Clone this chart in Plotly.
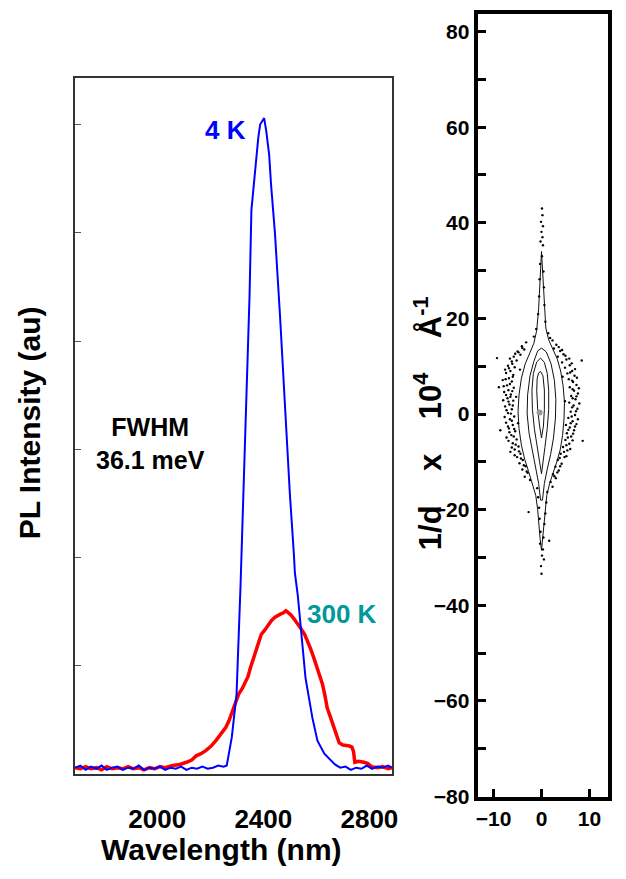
import plotly.graph_objects as go

# ---------------- Left panel: PL spectra ----------------
wl_300K = [1690, 1710, 1730, 1750, 1770, 1790, 1810, 1830, 1850, 1870,
           1890, 1910, 1930, 1950, 1970, 1990, 2010, 2030, 2058, 2085,
           2110, 2130, 2147, 2165, 2184, 2203, 2221, 2240, 2258, 2270,
           2281, 2294, 2307, 2320, 2333, 2342, 2351, 2360, 2370, 2381,
           2392, 2405, 2418, 2431, 2444, 2455, 2466, 2476, 2485, 2495,
           2504, 2517, 2530, 2543, 2556, 2567, 2578, 2591, 2604, 2613,
           2623, 2632, 2641, 2654, 2667, 2677, 2686, 2700, 2716, 2725,
           2734, 2740, 2745, 2760, 2779, 2793, 2808, 2830, 2850, 2870,
           2885]
pl_300K = [0.06, 0.05, 0.07, 0.05, 0.06, 0.04, 0.07, 0.05, 0.06, 0.05,
           0.07, 0.05, 0.06, 0.04, 0.06, 0.05, 0.07, 0.06, 0.08, 0.09,
           0.11, 0.13, 0.17, 0.19, 0.22, 0.26, 0.31, 0.37, 0.43, 0.49,
           0.56, 0.64, 0.74, 0.79, 0.86, 0.90, 0.98, 1.05, 1.13, 1.22,
           1.29, 1.33, 1.38, 1.42, 1.45, 1.47, 1.48, 1.49, 1.51, 1.49,
           1.47, 1.43, 1.39, 1.34, 1.29, 1.23, 1.16, 1.07, 0.98, 0.91,
           0.83, 0.73, 0.61, 0.52, 0.43, 0.36, 0.29, 0.27, 0.265, 0.26,
           0.25, 0.21, 0.11, 0.12, 0.11, 0.10, 0.07, 0.06, 0.07, 0.05,
           0.06]

wl_4K = [1690, 1710, 1730, 1750, 1770, 1790, 1810, 1830, 1850, 1870,
         1890, 1910, 1930, 1950, 1970, 1990, 2010, 2030, 2050, 2070,
         2090, 2110, 2130, 2150, 2170, 2190, 2210, 2230, 2250, 2262,
         2281, 2299, 2314, 2318, 2329, 2336, 2348, 2355, 2370, 2381,
         2388, 2396, 2403, 2411, 2422, 2429, 2444, 2463, 2481, 2500,
         2515, 2519, 2530, 2548, 2559, 2585, 2604, 2630, 2652, 2670,
         2690, 2710, 2730, 2750, 2770, 2790, 2810, 2830, 2850, 2870,
         2885]
pl_4K = [0.06, 0.08, 0.04, 0.07, 0.05, 0.08, 0.04, 0.06, 0.07, 0.04,
         0.06, 0.05, 0.08, 0.04, 0.06, 0.05, 0.07, 0.04, 0.06, 0.05,
         0.07, 0.04, 0.06, 0.05, 0.07, 0.05, 0.06, 0.08, 0.07, 0.08,
         0.34, 0.74, 1.74, 2.04, 2.96, 3.50, 4.42, 5.21, 5.63, 5.88,
         6.00, 6.04, 6.06, 5.94, 5.72, 5.45, 4.99, 4.23, 3.41, 2.59,
         2.04, 1.86, 1.65, 1.20, 0.89, 0.52, 0.31, 0.19, 0.13, 0.09,
         0.06, 0.07, 0.04, 0.06, 0.05, 0.08, 0.05, 0.07, 0.06, 0.08,
         0.06]

wl_tick_labels = [2000, 2400, 2800]
wl_tick_marks = [2091, 2485]
pl_tick_marks = [1, 2, 3, 4, 5, 6]

# ---------------- Right panel: reciprocal-space map ----------------
c1_x = [0.0, 0.3, 0.6, 0.9, 1.5, 2.4, 3.3, 4.0, 4.5, 4.8, 4.7, 4.4, 3.9, 3.2, 2.4,
        1.7, 1.1, 0.8, 0.5, 0.3, 0.0, -0.3, -0.5, -0.8, -1.2, -1.9, -2.7, -3.5,
        -4.2, -4.7, -4.9, -4.7, -4.2, -3.4, -2.5, -1.6, -1.0, -0.6, -0.3, 0.0]
c1_y = [34, 28, 22, 18, 15.5, 13.5, 11.5, 9, 6, 2.5, -1, -4.5, -7.5, -10, -12.2,
        -14.5, -17, -20, -23, -26, -28.5, -26, -23, -20, -17, -14.5, -12, -9.5,
        -6.5, -3, 0.5, 4, 7.5, 10.5, 12.8, 14.8, 17.5, 22, 28, 34]
c2_x = [0.0, 1.0, 2.0, 2.7, 3.0, 2.9, 2.5, 1.9, 1.2, 0.6, 0.2, -0.2, -0.6, -1.2,
        -1.9, -2.6, -3.0, -2.9, -2.4, -1.6, -0.8, 0.0]
c2_y = [13.8, 13.0, 10.5, 7.0, 3.0, -1.0, -5.0, -8.5, -11.5, -14.5, -18.0, -18.0,
        -14.5, -11.5, -8.0, -4.0, 0.0, 4.0, 8.0, 11.0, 13.2, 13.8]
c3_x = [-0.2, 0.6, 1.2, 1.5, 1.5, 1.2, 0.7, 0.3, 0.0, -0.4, -0.9, -1.5, -1.9,
        -2.0, -1.7, -1.0, -0.2]
c3_y = [11.7, 10.8, 8.5, 5.0, 1.0, -3.0, -7.0, -10.0, -12.5, -10.0, -7.0, -3.0,
        1.0, 5.0, 8.5, 10.9, 11.7]
c4_x = [-0.2, 0.3, 0.6, 0.6, 0.4, 0.0, -0.4, -0.8, -1.0, -0.9, -0.6, -0.2]
c4_y = [8.9, 8.0, 5.0, 1.0, -2.5, -5.0, -2.5, 1.0, 5.0, 7.5, 8.6, 8.9]
peak_x = [-0.4]
peak_y = [0.3]

dots_x = [-3.2, -4.1, -3.6, -5.0, -4.4, -5.8, -6.6, -5.2, -9.3, -6.1, -7.0, -5.6,
          -6.5, -7.4, -5.9, -6.8, -8.1, -6.2, -7.2, -5.8, -6.9, -7.8, -6.4, -7.1,
          -5.9, -6.7, -7.6, -6.2, -7.0, -5.7, -6.6, -7.4, -6.0, -6.8, -5.5, -6.3,
          -7.3, -5.2, -6.0, -4.8, -5.6, -6.5, -4.4, -5.1, -3.9, -4.6, -3.3, -4.0,
          -2.9, -3.5, -2.4, -8.6, -8.9, -4.5, -5.3, -4.9,
          2.3, 3.1, 2.6, 3.9, 4.6, 3.4, 5.2, 4.3, 5.9, 4.9, 6.4, 5.4, 8.4, 6.9,
          5.7, 6.6, 7.3, 5.9, 6.8, 7.6, 6.2, 7.1, 5.8, 6.7, 7.5, 6.1, 7.0, 5.6,
          6.5, 7.3, 5.9, 6.8, 5.3, 6.2, 8.6, 5.0, 5.8, 4.5, 5.4, 4.0, 4.8, 3.4,
          4.2, 2.9, 3.6, 2.4, 3.0, 1.9, 4.9, 5.1, 4.4,
          0.1, 0.2, -0.1, 0.3, 0.0, 0.2, -0.2, 0.3, 0.1, -0.3, 0.4, -0.4, 0.5,
          -0.5, 0.6, -0.7, 0.8, -1.1, 1.4, -1.6, 1.8,
          -0.9, 1.2, -0.7, 1.0, -0.5, 0.8, -0.4, 0.6, -0.2, 0.4, -0.3, 0.3, 0.1,
          0.5, -0.1, 0.0, 1.6, -2.7, 2.3]
dots_y = [15.0, 14.2, 13.5, 13.1, 12.4, 12.0, 11.6, 11.2, 11.7, 10.5, 10.1, 9.8,
          9.0, 8.6, 8.2, 7.5, 7.1, 6.8, 6.0, 5.5, 5.0, 4.6, 4.1, 3.3,
          2.8, 2.0, 1.6, 1.0, 0.2, -0.5, -1.1, -1.8, -2.3, -3.0, -3.6, -4.4,
          -4.9, -5.3, -6.1, -6.8, -7.4, -7.9, -8.3, -9.0, -9.6, -10.3, -10.9, -11.6,
          -12.3, -13.1, -13.8, -3.4, 5.6, 9.3, 3.6, -1.9,
          15.4, 14.5, 13.7, 13.2, 12.5, 12.0, 11.4, 10.8, 10.2, 9.7, 9.0, 8.5, 11.2, 8.0,
          7.3, 6.7, 6.1, 5.6, 4.9, 4.3, 3.8, 3.1, 2.4, 1.8, 1.1, 0.5, -0.2, -0.8,
          -1.5, -2.1, -2.8, -3.4, -4.0, -4.7, -5.6, -5.4, -6.2, -6.9, -7.6, -8.3, -9.0, -9.6,
          -10.4, -11.0, -11.8, -12.6, -13.4, -14.2, 2.7, -2.3, 7.8,
          43.0, 41.6, 40.2, 39.3, 38.1, 37.0, 36.1, 35.3, 33.0, 31.4, 29.8, 28.2, 26.5,
          24.6, 22.8, 20.9, 19.3, 17.8, 16.9, 16.2, 15.9,
          -15.5, -16.3, -17.4, -18.5, -19.6, -20.8, -21.9, -23.0, -24.6, -25.8, -27.1, -28.3, -29.6,
          -30.4, -31.8, -33.4, -26.5, -20.5, -15.2]

band_x = [-4.0, -4.8, -5.5, -6.2, -6.8, -7.6, -6.0, -7.5, -6.6, -7.9, -6.1, -7.4,
          -6.5, -8.0, -6.9, -6.0, -7.3, -6.4, -7.7, -6.2, -7.0, -5.7, -6.7, -5.8,
          -6.9, -5.4, -6.2, -4.7, -5.6, -4.3, -3.7, -3.1,
          3.6, 4.3, 5.0, 5.8, 6.3, 7.0, 6.0, 7.4, 6.4, 7.8, 6.5, 7.3,
          6.5, 7.9, 6.4, 7.2, 6.3, 7.6, 6.1, 7.0, 5.6, 6.6, 5.5, 6.5,
          5.2, 6.0, 4.7, 5.2, 3.8, 3.9, 3.3, 2.7]
band_y = [13.8, 12.9, 12.6, 11.0, 9.6, 9.3, 7.8, 7.3, 6.3, 5.8, 4.8, 4.0,
          3.6, 2.9, 2.6, 1.8, 0.8, 0.1, -0.6, -1.4, -2.6, -3.1, -3.8, -4.7,
          -5.6, -6.4, -7.0, -7.8, -8.6, -9.3, -10.7, -12.0,
          14.0, 13.4, 12.2, 11.6, 10.6, 9.4, 8.7, 7.6, 7.0, 5.4, 5.2, 3.7,
          3.3, 2.2, 1.4, 0.6, -0.5, -1.1, -1.9, -2.6, -3.3, -4.1, -4.9, -5.5,
          -6.5, -7.3, -7.9, -8.8, -9.2, -10.9, -12.2, -13.0]

q_tick_vals = [-10, 0, 10]
d_tick_vals = [-80, -60, -40, -20, 0, 20, 40, 60, 80]

FONT = "Liberation Sans, Arial, sans-serif"
W, H = 626, 879

fig = go.Figure()

fig.add_trace(go.Scatter(x=wl_300K, y=pl_300K, mode="lines",
                         line=dict(color="#FF0000", width=3.5), xaxis="x", yaxis="y"))
fig.add_trace(go.Scatter(x=wl_4K, y=pl_4K, mode="lines",
                         line=dict(color="#0000FF", width=2), xaxis="x", yaxis="y"))

for cx, cy in [(c1_x, c1_y), (c2_x, c2_y), (c3_x, c3_y), (c4_x, c4_y)]:
    fig.add_trace(go.Scatter(x=cx, y=cy, mode="lines",
                             line=dict(color="#111111", width=1),
                             xaxis="x2", yaxis="y2"))
for px, py in [(dots_x, dots_y), (band_x, band_y)]:
    fig.add_trace(go.Scatter(x=px, y=py, mode="markers",
                             marker=dict(color="black", size=2.4),
                             xaxis="x2", yaxis="y2"))
fig.add_trace(go.Scatter(x=peak_x, y=peak_y, mode="markers",
                         marker=dict(color="#999999", size=6),
                         xaxis="x2", yaxis="y2"))

wl_range = [1690, 2885]
fig.update_layout(
    width=W, height=H,
    margin=dict(l=0, r=0, t=0, b=0),
    paper_bgcolor="white", plot_bgcolor="white",
    showlegend=False,
    xaxis=dict(domain=[74 / W, 395 / W], range=wl_range,
               tickvals=wl_tick_labels, ticks="", showgrid=False, zeroline=False,
               showline=True, mirror=True, linecolor="#333333", linewidth=1.5,
               tickfont=dict(family=FONT, size=26, color="black", weight="bold"),
               ticklabelstandoff=21),
    xaxis3=dict(overlaying="x", anchor="y", range=wl_range, tickvals=wl_tick_marks,
                ticks="inside", ticklen=7, tickwidth=1, tickcolor="#333333",
                showticklabels=False, showgrid=False, zeroline=False, showline=False),
    yaxis=dict(domain=[(H - 784) / H, (H - 79) / H], range=[0, 6.43],
               tickvals=pl_tick_marks, ticks="inside", ticklen=6, tickwidth=1,
               tickcolor="#555555", showticklabels=False, showgrid=False,
               zeroline=False, showline=True, mirror=True,
               linecolor="#333333", linewidth=1.5),
    xaxis2=dict(domain=[481.7 / W, 614 / W], range=[-13.36, 13.92], anchor="y2",
                tickvals=q_tick_vals, ticks="inside", ticklen=8, tickwidth=3,
                tickcolor="black", showgrid=False, zeroline=False,
                showline=True, mirror=True, linecolor="black", linewidth=4,
                tickfont=dict(family=FONT, size=21, color="black", weight="bold")),
    yaxis2=dict(domain=[(H - 806.7) / H, (H - 14) / H], range=[-80, 83.7], anchor="x2",
                tickvals=d_tick_vals, ticks="inside", ticklen=8, tickwidth=3,
                tickcolor="black", showgrid=False, zeroline=False,
                showline=True, mirror=True, linecolor="black", linewidth=4,
                minor=dict(dtick=10, tick0=0, ticks="inside", ticklen=8,
                           tickwidth=3, tickcolor="black"),
                tickfont=dict(family=FONT, size=21, color="black", weight="bold")),
)

NB = "\u00a0"
annos = [
    dict(text="<b>4 K</b>", x=226, y=132, color="#0000FF", size=26, angle=0),
    dict(text="<b>300 K</b>", x=344, y=622, color="#009999", size=26, angle=0),
    dict(text="<b>FWHM<br>36.1 meV</b>", x=150, y=449, color="black", size=25, angle=0),
    dict(text="<b>Wavelength (nm)</b>", x=222, y=860, color="black", size=30, angle=0),
    dict(text="<b>PL Intensity (au)</b>", x=28, y=428, color="black", size=30, angle=-90),
    dict(text="<b>1/d" + NB * 4 + "x" + NB * 4 + "10<sup>4</sup>" + NB * 4 +
              "Å<sup>-1</sup></b>", x=431, y=428,
         color="black", size=31, angle=-90),
]
for a in annos:
    fig.add_annotation(text=a["text"], x=a["x"] / W, y=1 - a["y"] / H,
                       xref="paper", yref="paper", showarrow=False,
                       xanchor="center", yanchor="middle", textangle=a["angle"],
                       font=dict(family=FONT, size=a["size"], color=a["color"]))

post = ("document.documentElement.style.margin='0';"
        "document.body.style.margin='0';document.body.style.padding='0';")

fig.write_html("out.html", post_script=post)
